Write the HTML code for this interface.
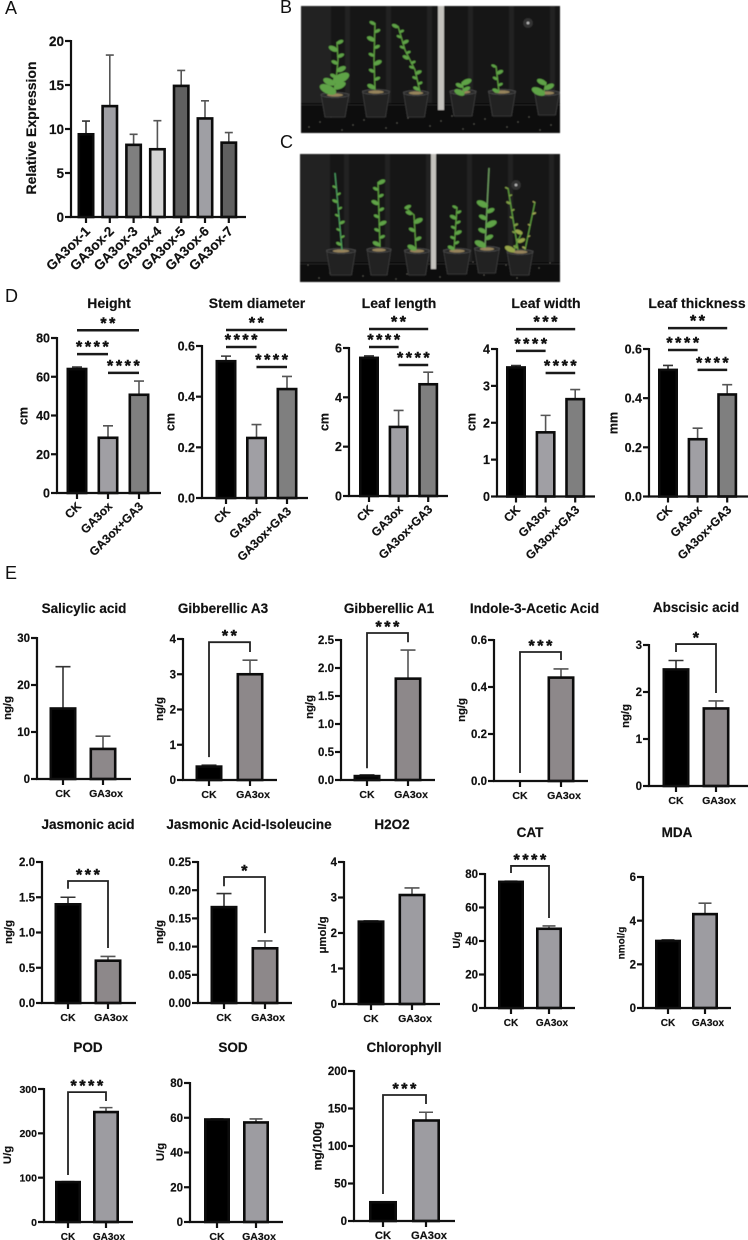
<!DOCTYPE html>
<html lang="en">
<head>
<meta charset="utf-8">
<title>GA3ox phenotype and physiology figure</title>
<style>
html,body{margin:0;padding:0;background:#fff;width:748px;height:1240px;overflow:hidden}
svg{display:block}
text{font-family:"Liberation Sans",Arial,sans-serif;fill:#111}
.b{font-weight:700;stroke:#111;stroke-width:.18}
.s{font-weight:700;stroke:#111;stroke-width:.45}
</style>
</head>
<body>
<svg id="figure" xmlns="http://www.w3.org/2000/svg" width="748" height="1240" viewBox="0 0 748 1240">
  <defs><filter id="soft" x="-5%" y="-5%" width="110%" height="110%"><feGaussianBlur stdDeviation="0.5"/></filter></defs>
  <text x="5" y="14" font-size="18">A</text>
  <text x="280" y="13" font-size="18">B</text>
  <text x="280" y="148" font-size="18">C</text>
  <text x="5" y="302" font-size="18">D</text>
  <text x="5" y="579" font-size="18">E</text>
</svg>
<script>
// ---------- chart data ----------
const expressionCategories = ['GA3ox-1','GA3ox-2','GA3ox-3','GA3ox-4','GA3ox-5','GA3ox-6','GA3ox-7'];
const expressionMeans = [9.4,12.6,8.2,7.7,14.9,11.2,8.45];
const expressionErrors = [1.5,5.8,1.2,3.25,1.75,2.0,1.15];
const expressionTicks = ['0','5','10','15','20'];
const expressionFills = ['#000000','#9f9fa4','#7f7f7f','#d4d4d4','#606060','#9f9fa4','#606060'];

const treatmentCategories = ['CK','GA3ox','GA3ox+GA3'];
const treatmentFills = ['#000000','#a09fa4','#7f7f7f'];
const pairCategories = ['CK','GA3ox'];
const pairFillsWarm = ['#000000','#8d888a'];
const pairFillsCool = ['#000000','#9d9ca1'];

const heightMeans = [64,28.5,50.7];
const heightErrors = [1,6.2,7.1];
const heightTicks = ['0','20','40','60','80'];
const heightSigLevels = [84,71.7,62];
const stemMeans = [0.54,0.237,0.43];
const stemErrors = [0.02,0.053,0.05];
const stemTicks = ['0.0','0.2','0.4','0.6'];
const stemSigLevels = [0.663,0.596,0.517];
const lengthMeans = [5.6,2.8,4.53];
const lengthErrors = [0.08,0.67,0.49];
const lengthTicks = ['0','2','4','6'];
const lengthSigLevels = [6.77,6.04,5.31];
const widthMeans = [3.5,1.74,2.64];
const widthErrors = [0.05,0.46,0.26];
const widthTicks = ['0','1','2','3','4'];
const widthSigLevels = [4.54,3.95,3.35];
const thicknessMeans = [0.515,0.233,0.415];
const thicknessErrors = [0.018,0.045,0.04];
const thicknessTicks = ['0.0','0.2','0.4','0.6'];
const thicknessSigLevels = [0.685,0.596,0.515];
const treatmentSigLabels = [['**','****','****'],['**','****','****'],['**','****','****'],['***','****','****'],['**','****','****']];

const salicylicMeans = [15,6.4];
const salicylicErrors = [8.9,2.7];
const salicylicTicks = ['0','10','20','30'];
const ga3Means = [0.38,3];
const ga3Errors = [0.04,0.4];
const ga3Ticks = ['0','1','2','3','4'];
const ga3Bracket = [3.91,0.65,3.63];
const ga1Means = [0.07,1.81];
const ga1Errors = [0.02,0.51];
const ga1Ticks = ['0.0','0.5','1.0','1.5','2.0','2.5'];
const ga1Bracket = [2.625,0.21,2.46];
const iaaMeans = [0,0.44];
const iaaErrors = [0,0.037];
const iaaTicks = ['0.0','0.2','0.4','0.6'];
const iaaBracket = [0.549,0.034,0.515];
const abaMeans = [2.48,1.65];
const abaErrors = [0.19,0.16];
const abaTicks = ['0','1','2','3'];
const abaBracket = [3.02,2.85,1.98];
const jaMeans = [1.4,0.6];
const jaErrors = [0.1,0.06];
const jaTicks = ['0.0','0.5','1.0','1.5','2.0'];
const jaBracket = [1.73,1.62,0.78];
const jaIleMeans = [0.17,0.097];
const jaIleErrors = [0.024,0.013];
const jaIleTicks = ['0.00','0.05','0.10','0.15','0.20','0.25'];
const jaIleBracket = [0.2234,0.207,0.124];
const h2o2Means = [2.32,3.07];
const h2o2Errors = [0.02,0.2];
const h2o2Ticks = ['0','1','2','3','4'];
const catMeans = [75.3,47.3];
const catErrors = [0.4,1.7];
const catTicks = ['0','20','40','60','80'];
const catBracket = [84.8,80.6,53.7];
const mdaMeans = [3.07,4.3];
const mdaErrors = [0.05,0.5];
const mdaTicks = ['0','2','4','6'];
const podMeans = [90,248];
const podErrors = [1,10];
const podTicks = ['0','100','200','300'];
const podBracket = [293,106,273];
const sodMeans = [59,57.3];
const sodErrors = [0.3,2];
const sodTicks = ['0','20','40','60','80'];
const chlorophyllMeans = [25,134];
const chlorophyllErrors = [0.5,11];
const chlorophyllTicks = ['0','50','100','150','200'];
const chlorophyllBracket = [168,36,156];

// ---------- helpers ----------
const SVG_NS = 'http://www.w3.org/2000/svg';
const svg = document.getElementById('figure');
function mk(tag, attrs, parent, txt) {
  const n = document.createElementNS(SVG_NS, tag);
  for (const k in attrs) n.setAttribute(k, attrs[k]);
  if (txt !== undefined) n.textContent = txt;
  parent.appendChild(n);
  return n;
}
function slug(s) { return s.toLowerCase().replace(/[^a-z0-9]+/g, '-'); }

function drawPanel(p) {
  const g = mk('g', {}, svg);
  
  
  const yMax = parseFloat(p.ticks[p.ticks.length - 1]);
  const yScale = v => p.y0 - v / yMax * (p.y0 - p.yTop);
  const xScale = i => p.x0 + p.step * i;
  const INK = '#111';
  const BS = 2.6;

  if (p.title) {
    const title = mk('text', {x:p.titleX, y:p.titleY, 'font-size':p.titleSize, 'text-anchor':'middle', class:'b'}, g, p.title);
    
    
  }

  p.means.forEach((m, i) => {
    const err = p.errors[i];
    const whisker = mk('path', {d:'M'+xScale(i)+' '+yScale(m)+'V'+yScale(m+err)+'M'+(xScale(i)-p.cap/2)+' '+yScale(m+err)+'H'+(xScale(i)+p.cap/2), fill:'none', stroke:i===0?'#333':'#555', 'stroke-width':1.6}, g);
    
    
    const h = yScale(0) - yScale(m);
    if (h > 0) {
      const bar = mk('rect', {x:xScale(i)-p.barW/2+BS/2, y:yScale(m), width:p.barW-BS, height:h, fill:p.fills[i], stroke:'#0c0c0c', 'stroke-width':BS}, g);
      
      
    }
  });

  const yAxis = mk('line', {x1:p.axisX, x2:p.axisX, y1:p.yTop-1, y2:p.y0+1, stroke:INK, 'stroke-width':2.2}, g);
  
  
  const xAxis = mk('line', {x1:p.axisX-1, x2:p.xEnd, y1:p.y0, y2:p.y0, stroke:INK, 'stroke-width':2.2}, g);
  
  

  p.ticks.forEach(t => {
    const y = yScale(parseFloat(t));
    const mark = mk('line', {x1:p.axisX-6, x2:p.axisX, y1:y, y2:y, stroke:INK, 'stroke-width':2.2}, g);
    
    
    const lab = mk('text', {x:p.axisX-7, y:y+p.tickSize*0.36, 'font-size':p.tickSize, 'text-anchor':'end', class:'b'}, g, t);
    
    
  });

  p.cats.forEach((c, i) => {
    const x = xScale(i);
    const mark = mk('line', {x1:x, x2:x, y1:p.y0, y2:p.y0+6, stroke:INK, 'stroke-width':2.2}, g);
    
    
    let lab;
    if (p.rotated) {
      const ax = x + 5, ay = p.y0 + (p.catDrop || 14);
      lab = mk('text', {x:ax, y:ay, 'font-size':p.catSize, 'text-anchor':'end', class:'b', transform:'rotate(-45 '+ax+' '+ay+')'}, g, c);
    } else {
      lab = mk('text', {x:x+(i===1?3:0), y:p.y0+18, 'font-size':p.catSize, 'text-anchor':'middle', class:'b'}, g, c);
    }
    
    
  });

  const yt = mk('text', {x:0, y:0, 'font-size':p.yLabelSize, 'text-anchor':'middle', class:'b', transform:'translate('+(p.yLabelX+p.yLabelSize*0.36)+' '+p.yLabelY+') rotate(-90)'}, g, p.yLabel);
  
  

  if (p.sigLevels) {
    const spans = [[0,2],[0,1],[1,2]];
    p.sigLevels.forEach((lv, k) => {
      const a = xScale(spans[k][0]), b = xScale(spans[k][1]);
      const y = yScale(lv);
      const line = mk('line', {x1:a, x2:b, y1:y, y2:y, stroke:'#1a1a1a', 'stroke-width':2.5}, g);
      
      
      drawStars(g, (a+b)/2, y-10, p.sigLabels[k]);
    });
  }
  if (p.bracket) {
    const a = xScale(0), b = xScale(1);
    const yTopB = yScale(p.bracket[0]);
    const path = mk('path', {d:'M'+a+' '+yScale(p.bracket[1])+'V'+yTopB+'H'+b+'V'+yScale(p.bracket[2]), fill:'none', stroke:'#222', 'stroke-width':1.8}, g);
    
    
    drawStars(g, (a+b)/2, yTopB-9, p.stars);
  }
}
function drawStars(g, cx, cy, label) {
  const s = mk('text', {x:cx+1.2, y:cy+8, 'font-size':16, 'letter-spacing':2.6, 'text-anchor':'middle', class:'s'}, g, label);
  
  
}

// ---------- panel A ----------
drawPanel({id:'relative-expression', cats:expressionCategories, means:expressionMeans, errors:expressionErrors, ticks:expressionTicks, fills:expressionFills,
  axisX:71, yTop:41, y0:217, xEnd:246, x0:86, step:23.8, barW:17, cap:8, tickSize:13.5, catSize:13.5, catDrop:15, rotated:true,
  yLabel:'Relative Expression', yLabelSize:14, yLabelX:31, yLabelY:128});

// ---------- panel D ----------
const D = {fills:treatmentFills, cats:treatmentCategories, rotated:true, barW:21, cap:10, tickSize:12.5, catSize:12, titleSize:14, titleY:308, yLabelSize:12.5};
drawPanel(Object.assign({}, D, {title:'Height', means:heightMeans, errors:heightErrors, ticks:heightTicks, sigLevels:heightSigLevels, sigLabels:treatmentSigLabels[0],
  axisX:57, yTop:338, y0:493, xEnd:161, x0:77, step:31, titleX:109, yLabel:'cm', yLabelX:23, yLabelY:416}));
drawPanel(Object.assign({}, D, {title:'Stem diameter', means:stemMeans, errors:stemErrors, ticks:stemTicks, sigLevels:stemSigLevels, sigLabels:treatmentSigLabels[1],
  axisX:202, yTop:346, y0:498, xEnd:308, x0:226, step:30.5, titleX:257, yLabel:'cm', yLabelX:170, yLabelY:422}));
drawPanel(Object.assign({}, D, {title:'Leaf length', means:lengthMeans, errors:lengthErrors, ticks:lengthTicks, sigLevels:lengthSigLevels, sigLabels:treatmentSigLabels[2],
  axisX:349, yTop:348, y0:496, xEnd:448, x0:369, step:29.6, barW:20, titleX:399, yLabel:'cm', yLabelX:324, yLabelY:422}));
drawPanel(Object.assign({}, D, {title:'Leaf width', means:widthMeans, errors:widthErrors, ticks:widthTicks, sigLevels:widthSigLevels, sigLabels:treatmentSigLabels[3],
  axisX:497, yTop:349, y0:496.5, xEnd:595, x0:516, step:29.6, barW:20, titleX:546, yLabel:'cm', yLabelX:471, yLabelY:422}));
drawPanel(Object.assign({}, D, {title:'Leaf thickness', means:thicknessMeans, errors:thicknessErrors, ticks:thicknessTicks, sigLevels:thicknessSigLevels, sigLabels:treatmentSigLabels[4],
  axisX:649, yTop:349, y0:496.5, xEnd:748, x0:668, step:29.6, barW:20, titleX:697, yLabel:'mm', yLabelX:613, yLabelY:423}));

// ---------- panel E ----------
const E = {cats:pairCategories, barW:27, cap:15, tickSize:11.5, catSize:10.5, titleSize:13.5, yLabelSize:11.3};
drawPanel(Object.assign({}, E, {title:'Salicylic acid', fills:pairFillsWarm, means:salicylicMeans, errors:salicylicErrors, ticks:salicylicTicks,
  axisX:37, yTop:638, y0:779, xEnd:131, x0:63, step:40, titleX:84, titleY:613, yLabel:'ng/g', yLabelX:7, yLabelY:708}));
drawPanel(Object.assign({}, E, {title:'Gibberellic A3', fills:pairFillsWarm, means:ga3Means, errors:ga3Errors, ticks:ga3Ticks, bracket:ga3Bracket, stars:'**',
  axisX:183, yTop:639, y0:780, xEnd:277, x0:209, step:41, titleX:223, titleY:613, yLabel:'ng/g', yLabelX:159, yLabelY:709}));
drawPanel(Object.assign({}, E, {title:'Gibberellic A1', fills:pairFillsWarm, means:ga1Means, errors:ga1Errors, ticks:ga1Ticks, bracket:ga1Bracket, stars:'***',
  axisX:341, yTop:640, y0:780, xEnd:435, x0:367, step:41, titleX:389, titleY:613, yLabel:'ng/g', yLabelX:309, yLabelY:707}));
drawPanel(Object.assign({}, E, {title:'Indole-3-Acetic Acid', fills:pairFillsWarm, means:iaaMeans, errors:iaaErrors, ticks:iaaTicks, bracket:iaaBracket, stars:'***',
  axisX:494, yTop:640, y0:781, xEnd:588, x0:520, step:41, titleX:534.5, titleY:613, yLabel:'ng/g', yLabelX:461, yLabelY:710}));
drawPanel(Object.assign({}, E, {title:'Abscisic acid', fills:pairFillsWarm, means:abaMeans, errors:abaErrors, ticks:abaTicks, bracket:abaBracket, stars:'*',
  axisX:649, yTop:645, y0:786, xEnd:748, x0:676, step:40, titleX:696, titleY:612, yLabel:'ng/g', yLabelX:625, yLabelY:716}));
drawPanel(Object.assign({}, E, {title:'Jasmonic acid', fills:pairFillsWarm, means:jaMeans, errors:jaErrors, ticks:jaTicks, bracket:jaBracket, stars:'***',
  axisX:42, yTop:862, y0:1003, xEnd:136, x0:68, step:40, titleX:88, titleY:829, yLabel:'ng/g', yLabelX:8, yLabelY:932}));
drawPanel(Object.assign({}, E, {title:'Jasmonic Acid-Isoleucine', fills:pairFillsWarm, means:jaIleMeans, errors:jaIleErrors, ticks:jaIleTicks, bracket:jaIleBracket, stars:'*',
  axisX:198, yTop:862, y0:1003, xEnd:292, x0:224, step:41, titleX:249, titleY:829, yLabel:'ng/g', yLabelX:159, yLabelY:932}));
drawPanel(Object.assign({}, E, {title:'H2O2', fills:pairFillsCool, means:h2o2Means, errors:h2o2Errors, ticks:h2o2Ticks,
  axisX:344, yTop:862, y0:1004, xEnd:440, x0:371, step:41, titleX:392, titleY:829, yLabel:'μmol/g', yLabelX:322, yLabelY:935}));
drawPanel(Object.assign({}, E, {title:'CAT', fills:pairFillsCool, means:catMeans, errors:catErrors, ticks:catTicks, bracket:catBracket, stars:'****', barW:26, cap:13, catSize:10,
  axisX:485, yTop:874, y0:1008, xEnd:575, x0:511, step:38, titleX:530, titleY:837, yLabel:'U/g', yLabelSize:10.5, yLabelX:456, yLabelY:940}));
drawPanel(Object.assign({}, E, {title:'MDA', fills:pairFillsCool, means:mdaMeans, errors:mdaErrors, ticks:mdaTicks, barW:26, cap:13, catSize:10,
  axisX:643, yTop:877, y0:1008, xEnd:731, x0:668, step:37, titleX:677, titleY:837, yLabel:'nmol/g', yLabelSize:10, yLabelX:621, yLabelY:943}));
drawPanel(Object.assign({}, E, {title:'POD', fills:pairFillsCool, means:podMeans, errors:podErrors, ticks:podTicks, bracket:podBracket, stars:'****', barW:26, cap:13, catSize:10, tickSize:10.5,
  axisX:44, yTop:1089, y0:1222, xEnd:133, x0:68, step:38, titleX:88, titleY:1052, yLabel:'U/g', yLabelX:7, yLabelY:1155}));
drawPanel(Object.assign({}, E, {title:'SOD', fills:pairFillsCool, means:sodMeans, errors:sodErrors, ticks:sodTicks, barW:26, cap:13, catSize:10.5,
  axisX:190, yTop:1083, y0:1222, xEnd:283, x0:217, step:39, titleX:233, titleY:1052, yLabel:'U/g', yLabelX:160, yLabelY:1152}));
drawPanel(Object.assign({}, E, {title:'Chlorophyll', fills:pairFillsCool, means:chlorophyllMeans, errors:chlorophyllErrors, ticks:chlorophyllTicks, bracket:chlorophyllBracket, stars:'***', barW:28, cap:14, catSize:11.2,
  axisX:354, yTop:1071, y0:1221, xEnd:455, x0:383, step:43, titleX:404, titleY:1052, yLabel:'mg/100g', yLabelSize:12, yLabelX:317, yLabelY:1146}));

// ---------- plant photographs (illustrative drawing, panels B and C) ----------
function pointOn(pts, t) {
  let total = 0; const lens = [];
  for (let i = 1; i < pts.length; i++) { const l = Math.hypot(pts[i][0]-pts[i-1][0], pts[i][1]-pts[i-1][1]); lens.push(l); total += l; }
  let d = t * total;
  for (let i = 0; i < lens.length; i++) {
    if (d <= lens[i] || i === lens.length-1) { const f = d / lens[i]; return [pts[i][0]+(pts[i+1][0]-pts[i][0])*f, pts[i][1]+(pts[i+1][1]-pts[i][1])*f]; }
    d -= lens[i];
  }
}
function drawPhoto(name, x, y, w, h, floorY, ruler, glow, pots, plants) {
  const g = mk('g', {filter:'url(#soft)'}, svg);
  
  
  mk('rect', {x:x, y:y, width:w, height:h, fill:'#171717'}, g);
  mk('rect', {x:x, y:y, width:30, height:floorY-y, fill:'#242424'}, g);
  for (let fx = x + 44; fx < x + w; fx += 41) mk('rect', {x:fx, y:y, width:5, height:floorY-y, fill:'#202020'}, g);
  mk('rect', {x:x, y:floorY, width:w, height:y+h-floorY, fill:'#0c0c0c'}, g);
  for (let sx = x + 8; sx < x + w; sx += 11) {
    mk('circle', {cx:sx, cy:y+h-3-((sx*7)%18), r:0.6, fill:'#5e5d57'}, g);
  }
  mk('line', {x1:x, x2:x+w, y1:floorY+2, y2:floorY+2, stroke:'#2d2d2d', 'stroke-width':0.8}, g);
  mk('circle', {cx:glow[0], cy:glow[1], r:5, fill:'#303030'}, g);
  mk('circle', {cx:glow[0], cy:glow[1], r:1.4, fill:'#b5b5b5'}, g);
  mk('rect', {x:ruler[0], y:y, width:ruler[1], height:ruler[2]-y, fill:'#c4c2bd'}, g);
  pots.forEach(p => {
    mk('path', {d:'M'+(p[0]-p[3]/2)+' '+p[1]+'L'+(p[0]-p[3]/2+4)+' '+p[2]+'H'+(p[0]+p[3]/2-4)+'L'+(p[0]+p[3]/2)+' '+p[1]+'Z', fill:'#232323', stroke:'#3d3d3d', 'stroke-width':0.8}, g);
    mk('ellipse', {cx:p[0], cy:p[1]+1, rx:p[3]/2, ry:2.5, fill:'#2c2c2c', stroke:'#4d4d4d', 'stroke-width':0.7}, g);
    mk('ellipse', {cx:p[0], cy:p[1]+1, rx:p[3]/3.5, ry:1.6, fill:'#96835c'}, g);
  });
  plants.forEach(pl => {
    const d = 'M' + pl.pts.map(q => q.join(' ')).join('L');
    mk('path', {d:d, fill:'none', stroke:pl.stem || '#5b9a3c', 'stroke-width':1.3}, g);
    const from = pl.from === undefined ? 0.05 : pl.from, to = pl.to === undefined ? 1 : pl.to;
    for (let i = 0; i < pl.n; i++) {
      const t = from + (to-from) * i / Math.max(1, pl.n-1);
      const q = pointOn(pl.pts, t);
      const side = i % 2 ? 1 : -1;
      const s = pl.size * (i % 3 === 0 ? 1.1 : 0.8);
      mk('ellipse', {cx:q[0]+side*s*0.8, cy:q[1], rx:s, ry:s*0.5, fill:pl.color || '#5fa346', transform:'rotate('+(side*-25)+' '+(q[0]+side*s*0.8)+' '+q[1]+')'}, g);
    }
  });
}
drawPhoto('plant-photo-b', 301, 6, 259, 127, 103, [438,6,110], [528,23],
  [[335,94,117,28],[376,91,117,27],[416,92,117,25],[463,91,116,26],[502,91,116,27],[547,92,115,25]],
  [{pts:[[335,92],[338,60],[337,42]], n:8, size:4.6},
   {pts:[[335,90],[334,78]], n:4, size:8},
   {pts:[[375,90],[374,60],[375,23]], n:9, size:4},
   {pts:[[420,92],[415,70],[405,50],[398,26]], n:13, size:3.2},
   {pts:[[464,93],[462,82]], n:4, size:5},
   {pts:[[499,92],[496,66]], n:5, size:3.4},
   {pts:[[544,92],[546,82]], n:3, size:6.5}]);
drawPhoto('plant-photo-c', 300, 154, 260, 128, 262, [431,5,269], [516,185],
  [[341,250,275,29],[379,249,275,24],[417,250,275,25],[457,250,274,27],[487,248,273,25],[520,251,275,26]],
  [{pts:[[342,250],[335,173]], n:9, size:2.8, stem:'#4a9a5e', from:0.08, to:0.82},
   {pts:[[380,247],[378,182]], n:10, size:3.8},
   {pts:[[416,250],[414,215],[405,207]], n:6, size:4.4},
   {pts:[[454,250],[457,207]], n:9, size:3.4},
   {pts:[[485,248],[489,168]], n:7, size:5.5, stem:'#6f9f62', from:0.05, to:0.55},
   {pts:[[518,250],[508,188]], n:9, size:2.2, color:'#7f9c45', from:0.05, to:1},
   {pts:[[525,250],[535,202]], n:5, size:1.8, color:'#a0a555'},
   {pts:[[514,250],[522,232]], n:3, size:5, color:'#97a64a'}]);
</script>
</body>
</html>
